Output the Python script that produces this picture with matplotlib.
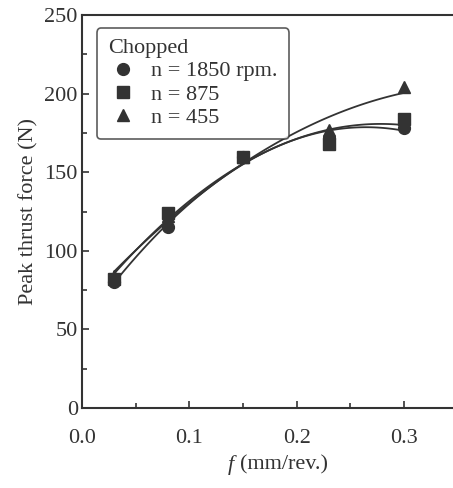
import numpy as np
import matplotlib
matplotlib.use("Agg")
import matplotlib.pyplot as plt
from matplotlib.ticker import MultipleLocator

plt.rcParams['font.family'] = ['Liberation Serif', 'DejaVu Serif']

feed = [0.03, 0.08, 0.15, 0.23, 0.30]
force_1850 = [80, 115, 160, 172, 178]
force_875 = [82, 124, 160, 168, 184]
force_455 = [84, 122, 160, 177, 204]
labels = ["n = 1850 rpm.", "n = 875", "n = 455"]
markers = ["o", "s", "^"]

ink = "#333333"
fs = 16
fig = plt.figure(figsize=(4.53, 4.88), dpi=100)
ax = fig.add_axes([0.181, 0.164, 0.819, 0.805])

xs = np.linspace(0.03, 0.30, 100)
handles = []
for ys, m, lab in zip([force_1850, force_875, force_455], markers, labels):
    coef = np.polyfit(feed, ys, 2)
    ax.plot(xs, np.polyval(coef, xs), color=ink, lw=1.3)
    h, = ax.plot(feed, ys, linestyle="none", marker=m, ms=8.5, color=ink, label=lab)
    handles.append(h)

ax.set_xlim(0, 0.3458)
ax.set_ylim(0, 250)
ax.xaxis.set_minor_locator(MultipleLocator(0.05))
ax.yaxis.set_major_locator(MultipleLocator(50))
ax.yaxis.set_minor_locator(MultipleLocator(25))
ax.set_xticks([0.0, 0.1, 0.2, 0.3])
ax.set_xticklabels(["0.0", "0.1", "0.2", "0.3"])
ax.tick_params(which="major", direction="in", length=5, width=1.2, color=ink,
               labelsize=fs, labelcolor=ink)
ax.tick_params(axis="x", which="major", pad=15)
ax.tick_params(axis="y", which="major", pad=3)
ax.tick_params(which="minor", direction="in", length=3.5, width=1.2, color=ink)
ax.spines['right'].set_visible(False)
for s in ['left', 'top', 'bottom']:
    ax.spines[s].set_linewidth(1.5)
    ax.spines[s].set_color(ink)

fig.text(228 / 453, 1 - 465 / 488, "f", fontsize=fs, color=ink, ha="left",
         va="center", style="italic")
fig.text(240 / 453, 1 - 465 / 488, "(mm/rev.)", fontsize=fs, color=ink,
         ha="left", va="center")
ax.set_ylabel("Peak thrust force (N)", fontsize=fs, color=ink, labelpad=4)

leg = ax.legend(handles=handles, title="Chopped", loc="upper left",
                bbox_to_anchor=(0.0404, 0.967), fontsize=fs, title_fontsize=fs,
                frameon=True, fancybox=True, edgecolor=ink, handletextpad=0.65,
                labelspacing=0.12, borderpad=0.5, handlelength=1.3,
                borderaxespad=0)
leg._legend_box.align = "left"
leg.get_frame().set_linewidth(1.2)
for t in leg.get_texts():
    t.set_color(ink)
leg.get_title().set_color(ink)

fig.savefig("out.png", dpi=100)
